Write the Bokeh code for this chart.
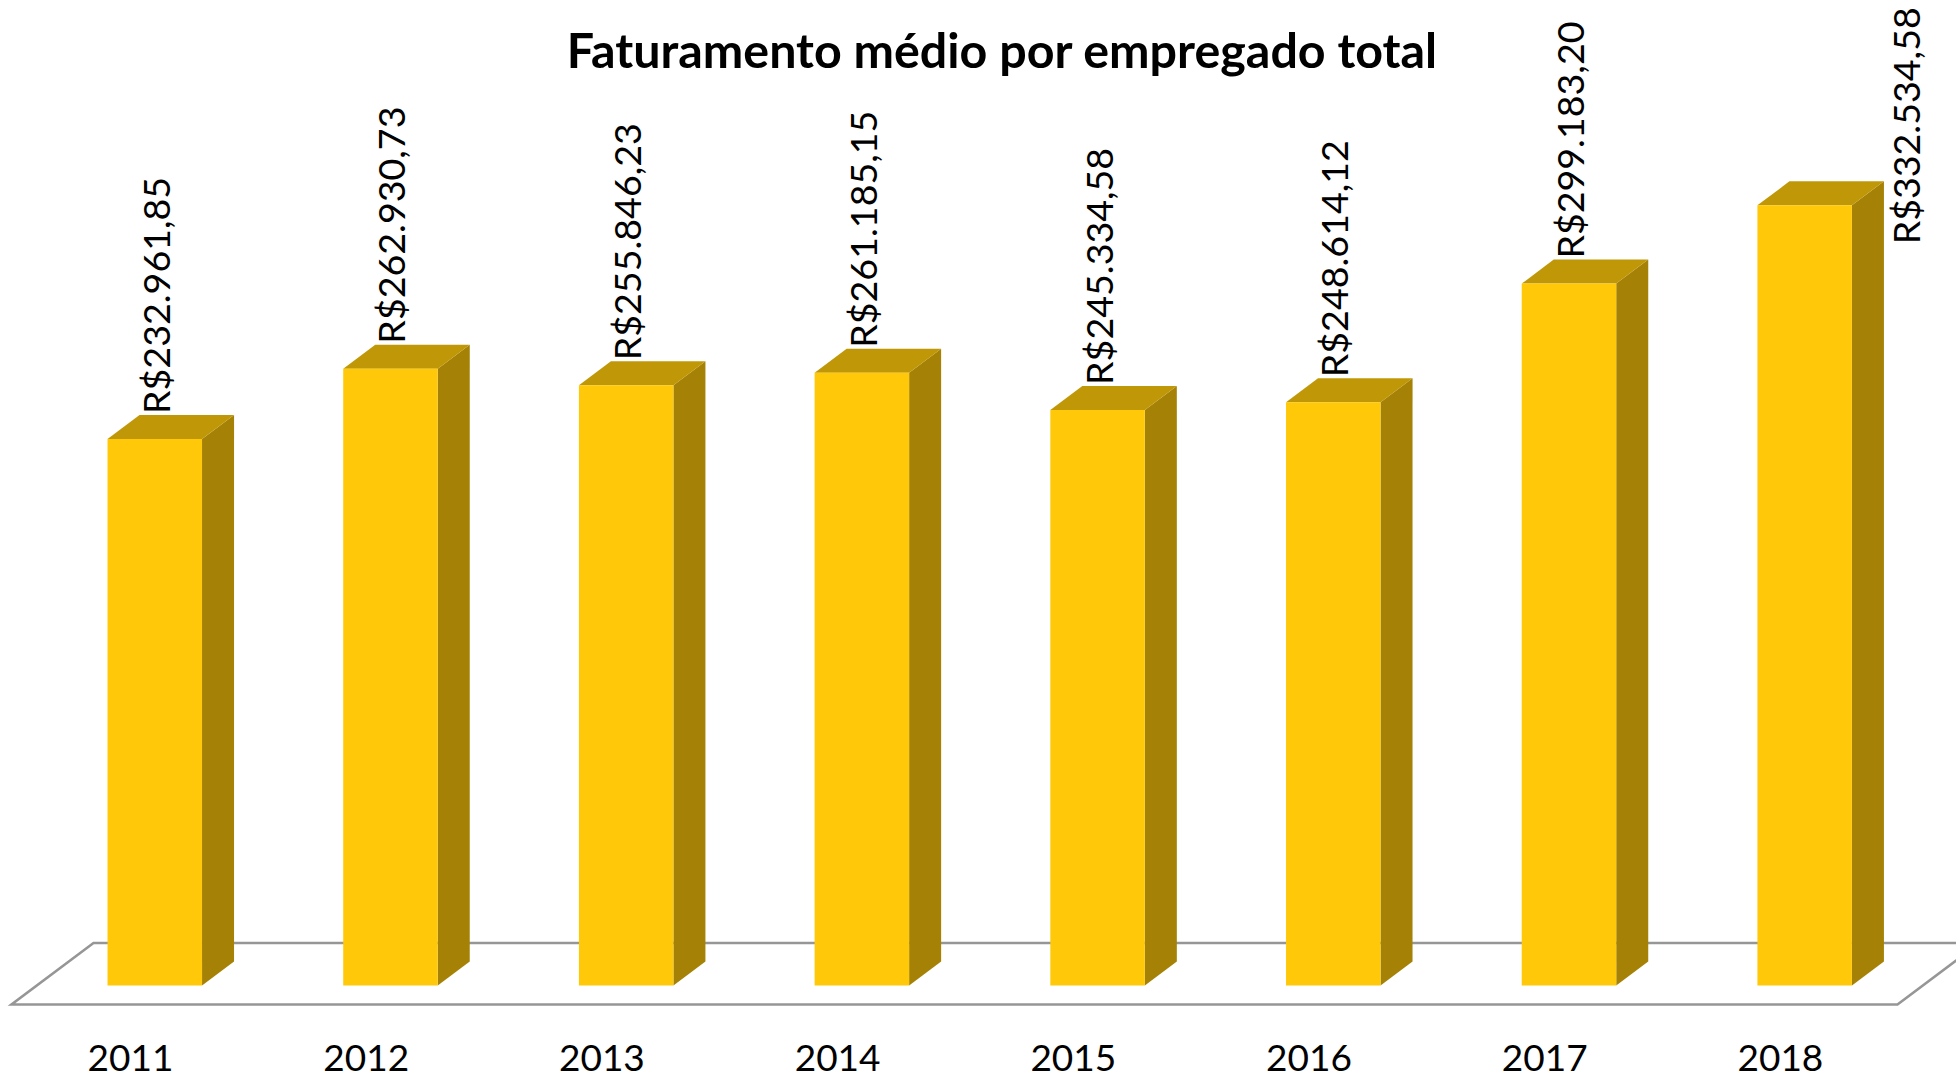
from bokeh.plotting import figure
from bokeh.models import Range1d, FixedTicker
from bokeh.core.properties import value
from bokeh.embed import file_html
from bokeh.resources import INLINE

years = ["2011", "2012", "2013", "2014", "2015", "2016", "2017", "2018"]
revenue = [232961.85, 262930.73, 255846.23, 261185.15, 245334.58, 248614.12, 299183.20, 332534.58]
labels = ["R$232.961,85", "R$262.930,73", "R$255.846,23", "R$261.185,15",
          "R$245.334,58", "R$248.614,12", "R$299.183,20", "R$332.534,58"]
title_text = "Faturamento médio por empregado total"

# layout (screen pixels of the page)
PX_PER_VAL = 0.002346
PX_PER_CAT = 235.7
BASE_Y = 985
TICK0_X = 130
AXIS_Y = 1008
LEFT, TOP, FRAME_W, FRAME_H = 0, 0, 1956, 1078
FONT = "Lato"

def vy(px):
    return px / PX_PER_VAL
def cx(px):
    return px / PX_PER_CAT

x_range = Range1d(cx(LEFT - TICK0_X), cx(LEFT + FRAME_W - TICK0_X))
y_range = Range1d(vy(BASE_Y - (TOP + FRAME_H)), vy(BASE_Y - TOP))

p = figure(frame_width=FRAME_W, frame_height=FRAME_H, x_range=x_range, y_range=y_range,
           output_backend="svg", toolbar_location=None, min_border=0,
           outline_line_color=None, background_fill_color="white")
p.grid.visible = False
p.yaxis.visible = False
ax = p.xaxis[0]
ax.fixed_location = vy(BASE_Y - AXIS_Y)
ax.ticker = FixedTicker(ticks=list(range(len(years))))
ax.major_label_overrides = {i: y for i, y in enumerate(years)}
ax.axis_line_color = None
ax.major_tick_line_color = None
ax.minor_tick_line_color = None
ax.major_label_text_font = FONT
ax.major_label_text_font_size = "37px"
ax.major_label_text_color = "#000000"
ax.major_label_standoff = 30

# floor
DX, DY = cx(32), vy(24)
fl_front = vy(BASE_Y - 1004)
fl_back = vy(BASE_Y - 942.5)
fl_l, fl_r = cx(11 - TICK0_X), cx(1897 - TICK0_X)
fl_dx = cx(82)
p.line([fl_r + fl_dx, fl_r, fl_l, fl_l + fl_dx, fl_r + fl_dx],
       [fl_back, fl_front, fl_front, fl_back, fl_back],
       line_color="#969696", line_width=2.6, line_join="miter")

# bars
shift, bw = 0.103, 0.401
xs = [i + shift for i in range(len(years))]
lefts = [x - bw / 2 for x in xs]
rights = [x + bw / 2 for x in xs]

p.patches([[r, r + DX, r + DX, r] for r in rights],
          [[0, DY, v + DY, v] for v in revenue],
          fill_color="#A58105", line_color=None)
p.patches([[l, r, r + DX, l + DX] for l, r in zip(lefts, rights)],
          [[v, v, v + DY, v + DY] for v in revenue],
          fill_color="#C09807", line_color=None)
p.quad(left=lefts, right=rights, bottom=0, top=revenue, fill_color="#FFC90A", line_color=None)

# value labels (the last one sits moved right and down, as in the reference)
lab_dx = [0, 0, 0, 0, 0, 0, 0, cx(100)]
lab_dy = [0, 0, 0, 0, 0, 0, 0, vy(-64)]
lab_x = [x + cx(0.5) + d for x, d in zip(xs, lab_dx)]
lab_y = [v + DY + vy(1) + d for v, d in zip(revenue, lab_dy)]
p.text(lab_x, lab_y, text=labels, angle=1.5708, text_align="left", text_baseline="alphabetic",
       text_font=value(FONT), text_font_size="37.6px", text_color="#000000")

# title
p.text([cx(1002 - TICK0_X)], [vy(BASE_Y - 48.5)], text=[title_text], text_align="center",
       text_baseline="middle", text_font=value(FONT), text_font_style="bold",
       text_font_size="48.4px", text_color="#000000")

open("out.html", "w").write(file_html(p, INLINE))
